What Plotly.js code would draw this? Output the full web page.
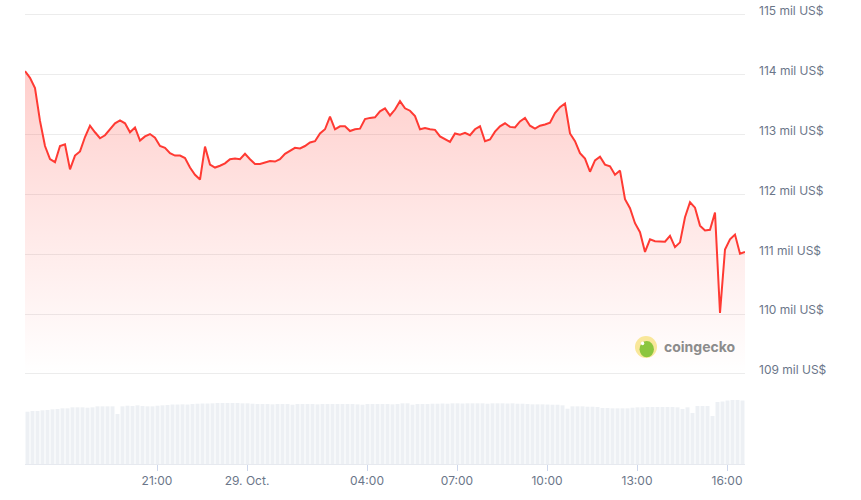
<!DOCTYPE html>
<html>
<head>
<meta charset="utf-8">
<script src="https://cdn.plot.ly/plotly-3.0.1.min.js"></script>
<style>html,body{margin:0;padding:0;background:#fff;}#chart{width:861px;height:500px;}</style>
</head>
<body>
<div id="chart"></div>
<script>
// Price in thousands of USD, one reading every 10 minutes from 28 Oct 16:36
const priceStart = '2025-10-28T16:36:00';
const priceStepMinutes = 10;
const priceValues = [
  114.06,113.95,113.78,113.23,112.81,112.59,112.54,112.81,112.84,112.42,
  112.65,112.72,112.96,113.15,113.04,112.94,112.99,113.10,113.19,113.24,
  113.19,113.04,113.12,112.90,112.97,113.01,112.95,112.81,112.78,112.69,
  112.65,112.65,112.61,112.45,112.33,112.25,112.80,112.50,112.45,112.48,
  112.52,112.59,112.60,112.59,112.68,112.59,112.51,112.51,112.54,112.56,
  112.55,112.59,112.68,112.73,112.78,112.77,112.81,112.87,112.89,113.02,
  113.09,113.30,113.09,113.14,113.14,113.06,113.09,113.10,113.26,113.28,
  113.29,113.39,113.44,113.32,113.42,113.56,113.44,113.40,113.31,113.09,
  113.11,113.09,113.08,112.97,112.92,112.88,113.02,113.00,113.03,112.99,
  113.09,113.14,112.89,112.92,113.05,113.14,113.19,113.13,113.12,113.22,
  113.28,113.15,113.10,113.15,113.17,113.20,113.36,113.46,113.52,113.02,
  112.89,112.69,112.60,112.38,112.57,112.63,112.50,112.47,112.33,112.40,
  111.92,111.77,111.52,111.37,111.04,111.25,111.22,111.21,111.21,111.31,
  111.12,111.20,111.62,111.87,111.78,111.48,111.40,111.41,111.70,110.02,
  111.08,111.25,111.33,111.01,111.04
];
// Volume (arbitrary units), one bar per 10 minutes
const volumeStart = '2025-10-28T16:41:00';
const volumeValues = [
  52.3,53,53,53.7,54,54.7,55,55.7,55.7,56.7,56.7,56.7,56.3,56.7,57.7,57.7,57.7,57.7,50,57.7,
  58.3,58,58.7,58,57.7,57.7,58.3,58.7,
  59,59.5,59.5,59.7,59.5,60,60.3,60.5,60.5,
  60.7,61,61,61,61,61,60.7,60.7,
  60.3,60,60,60,59.7,60,60,60,59.3,60,60,60,60,59.7,60,60,60,60,60,60,60,59.7,59.3,60,60,60,60,60,59.7,60,60.7,60.7,59.3,60,60,60,
  60.3,60.3,60.5,60.3,
  60.7,60.7,60.5,60.7,60.7,60.7,60.7,60.3,60.7,60.7,60.7,60.5,60.7,60.3,60.3,60,
  59.7,59.7,59.7,59.5,59.3,59.3,
  58.7,55.3,
  57.7,57.7,57.7,57.3,57.3,57,
  56,56,55.7,55.7,55.7,55.7,56.3,
  56.7,56.7,57,57,57,57,57,57,56.7,55,56.7,
  51,58,58,58,48,62,62.5,63.5,64,64,63.5
];
const tickTimes = ['2025-10-28 21:00','2025-10-29 00:00','2025-10-29 04:00','2025-10-29 07:00','2025-10-29 10:00','2025-10-29 13:00','2025-10-29 16:00'];
const tickLabels = ['21:00','29. Oct.','04:00','07:00','10:00','13:00','16:00'];
const xRange = ['2025-10-28 16:36','2025-10-29 16:36'];
const priceTicks = [109,110,111,112,113,114,115];
const priceTickSuffix = ' mil US$';

function pad(n){return (n<10?'0':'')+n;}
function timeSeries(start, stepMin, n){
  const base = Date.parse(start + 'Z');
  const out = [];
  for(let i=0;i<n;i++){
    const d = new Date(base + i*stepMin*60000);
    out.push(d.getUTCFullYear()+'-'+pad(d.getUTCMonth()+1)+'-'+pad(d.getUTCDate())+' '+pad(d.getUTCHours())+':'+pad(d.getUTCMinutes()));
  }
  return out;
}
const priceTimes = timeSeries(priceStart, priceStepMinutes, priceValues.length);
const volumeTimes = timeSeries(volumeStart, priceStepMinutes, volumeValues.length);
const priceTickText = priceTicks.map(v => v + priceTickSuffix);

const labelColor = '#6b7689';
const fontFamily = 'Inter, "Open Sans", sans-serif';

const traces = [
  {
    type:'bar', x: volumeTimes, y: volumeValues, xaxis:'x', yaxis:'y2',
    marker:{color:'#edf0f4', line:{width:0}}, hoverinfo:'skip'
  },
  {
    type:'scatter', mode:'lines', x: priceTimes, y: priceValues, xaxis:'x', yaxis:'y',
    line:{color:'#ff3a33', width:2}, fill:'tozeroy',
    fillgradient:{type:'vertical', start:109, stop:114.1,
      colorscale:[[0,'rgba(255,59,48,0)'],[0.5,'rgba(255,59,48,0.12)'],[1,'rgba(255,59,48,0.25)']]},
    hoverinfo:'skip'
  }
];

const layout = {
  width:861, height:500,
  margin:{l:25, r:116, t:0, b:36},
  paper_bgcolor:'#ffffff', plot_bgcolor:'#ffffff',
  showlegend:false, bargap:0.2,
  font:{family:fontFamily, size:12, color:labelColor},
  xaxis:{
    type:'date', range:xRange, anchor:'y2', domain:[0,1],
    tickvals:tickTimes, ticktext:tickLabels,
    ticks:'outside', ticklen:6, tickcolor:'#ccd6eb', tickwidth:1,
    showgrid:false, showline:true, linecolor:'#e6e9ef', linewidth:1,
    zeroline:false, tickfont:{size:12, color:labelColor, family:fontFamily}
  },
  yaxis:{
    domain:[0.1914,0.9703], range:[108.98,115.02], anchor:'x', side:'right',
    tickmode:'array', tickvals:priceTicks, ticktext:priceTickText,
    showgrid:true, gridcolor:'#ececec', gridwidth:1, zeroline:false, showline:false,
    ticks:'', ticklabelstandoff:13, ticklabelshift:-4,
    tickfont:{size:12, color:labelColor, family:fontFamily}
  },
  yaxis2:{
    domain:[0,0.1616], range:[0,75], anchor:'x', visible:false, showgrid:false, zeroline:false
  },
  shapes:[
    {type:'circle', xref:'paper', yref:'paper', x0:0.8472, x1:0.8778, y0:0.2284, y1:0.2759,
     fillcolor:'#f9e79a', line:{width:0}},
    {type:'circle', xref:'paper', yref:'paper', x0:0.8535, x1:0.8735, y0:0.2300, y1:0.2650,
     fillcolor:'#8cc63f', line:{width:0}},
    {type:'circle', xref:'paper', yref:'paper', x0:0.8555, x1:0.8600, y0:0.2560, y1:0.2640,
     fillcolor:'#ffffff', line:{width:0}}
  ],
  annotations:[
    {text:'<b>coingecko</b>', xref:'paper', yref:'paper', x:0.9375, y:0.2543,
     xanchor:'center', yanchor:'middle', showarrow:false,
     font:{family:fontFamily, size:14, color:'#8c8c8c'}}
  ]
};

Plotly.newPlot('chart', traces, layout, {staticPlot:true, displayModeBar:false});
</script>
</body>
</html>
